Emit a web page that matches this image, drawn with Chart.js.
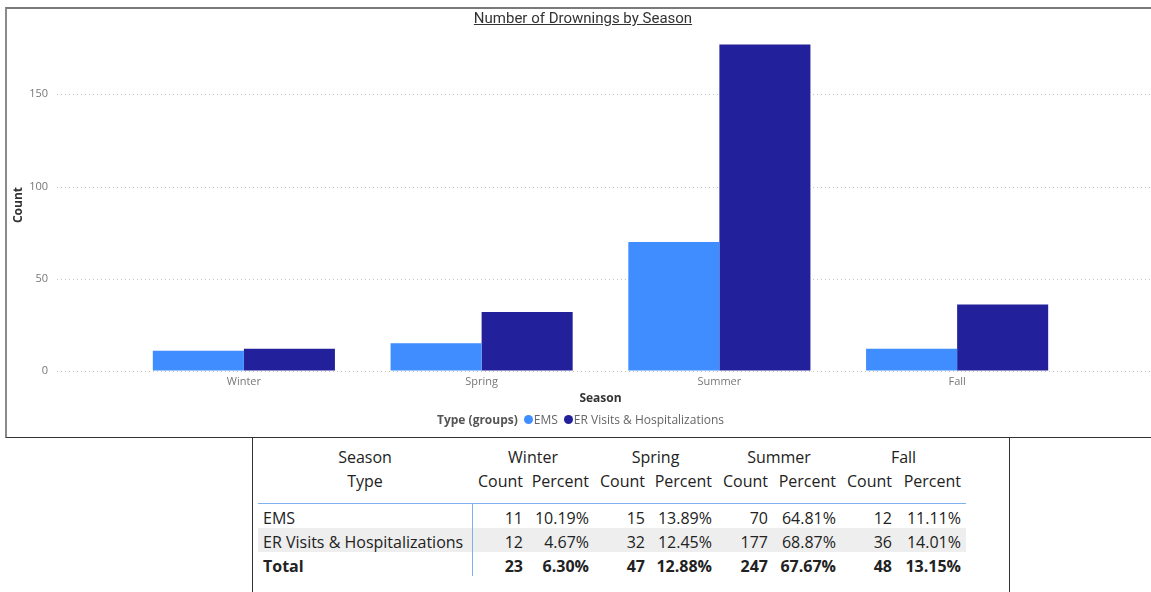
<!DOCTYPE html>
<html>
<head>
<meta charset="utf-8">
<script src="https://cdn.jsdelivr.net/npm/chart.js@4"></script>
<style>
  body { margin: 0; background: #fff; font-family: "Open Sans", "DejaVu Sans", sans-serif; }
  #frame { position: absolute; left: 5px; top: 7px; width: 1170px; height: 428px;
           border-top: 2px solid #7a7a7a; border-left: 2px solid #8a8a8a; border-bottom: 1px solid #333; }
  #chart { position: absolute; left: 0; top: 0; }
  #title { position: absolute; left: 0; width: 1166px; top: 9px; text-align: center;
           font-family: Roboto, sans-serif; font-size: 15px; color: #333; text-decoration: underline; }
  #legend { position: absolute; left: 437px; top: 411px; font-size: 12px; color: #666;
            display: flex; align-items: center; white-space: nowrap; }
  #legend b { color: #555; margin-right: 6px; }
  #legend .dot { width: 9px; height: 9px; border-radius: 50%; display: inline-block; margin-right: 1px; }
  #legend .item { display: flex; align-items: center; margin-right: 6px; }
  #tbox { position: absolute; left: 252px; top: 437px; width: 756px; height: 200px;
          border: 1px solid #333; }
  table { position: absolute; left: 5px; top: 7px; border-collapse: collapse; table-layout: fixed;
          font-size: 16px; color: #222; }
  td { padding: 4px 5px 0 0; height: 20px; line-height: 20px; white-space: nowrap; text-align: right; }
  td.type { text-align: left; padding-left: 5px; border-right: 1px solid #7fb0ef; }
  tr.h td { text-align: center; padding: 0; height: 24px; line-height: 24px; }
  tr.h2 td { height: 34px; vertical-align: top; padding-top: 0; border-bottom: 1px solid #7fb0ef; }
  tr.h2 td.num { text-align: right; padding-right: 5px; }
  tr.alt td { background: #eeeeee; }
  tr.tot td { font-weight: bold; }
</style>
</head>
<body>
<div id="frame"></div>
<canvas id="chart" width="1151" height="437"></canvas>
<div id="title">Number of Drownings by Season</div>
<div id="legend"></div>
<div id="tbox"><table id="tbl"></table></div>
<script>
const seasons = ["Winter", "Spring", "Summer", "Fall"];
const typeNames = ["EMS", "ER Visits & Hospitalizations"];
const emsCounts = [11, 15, 70, 12];
const erCounts = [12, 32, 177, 36];
const yTicks = [0, 50, 100, 150];
const colors = ["#3f8dff", "#22209a"];

// table values as shown
const emsPct = ["10.19%", "13.89%", "64.81%", "11.11%"];
const erPct = ["4.67%", "12.45%", "68.87%", "14.01%"];
const totalCounts = [23, 47, 247, 48];
const totalPct = ["6.30%", "12.88%", "67.67%", "13.15%"];

// dotted value gridlines running across the whole visual
const dottedGrid = {
  id: "dottedGrid",
  beforeDatasetsDraw(chart) {
    const ctx = chart.ctx;
    const y = chart.scales.y;
    ctx.save();
    ctx.strokeStyle = "#c4c4c4";
    ctx.lineWidth = 1;
    ctx.setLineDash([1, 3]);
    y.ticks.forEach(t => {
      const py = Math.round(y.getPixelForValue(t.value)) + 0.5;
      ctx.beginPath();
      ctx.moveTo(57, py);
      ctx.lineTo(chart.width, py);
      ctx.stroke();
    });
    ctx.restore();
  }
};

const ctx = document.getElementById("chart").getContext("2d");
const chart = new Chart(ctx, {
  type: "bar",
  data: {
    labels: seasons,
    datasets: [
      { label: typeNames[0], data: emsCounts, backgroundColor: colors[0] },
      { label: typeNames[1], data: erCounts, backgroundColor: colors[1] }
    ]
  },
  options: {
    responsive: false,
    animation: false,
    devicePixelRatio: 1,
    barPercentage: 1,
    categoryPercentage: 0.766,
    layout: { padding: { top: 39, right: 75, left: 0, bottom: 0 } },
    plugins: { legend: { display: false }, tooltip: { enabled: false } },
    scales: {
      x: {
        grid: { display: false, drawTicks: false },
        border: { display: false },
        ticks: { color: "#777", font: { size: 11, family: "'Open Sans', sans-serif" }, padding: 4 },
        title: { display: true, text: "Season", color: "#333",
                 font: { size: 12, weight: "bold", family: "'Open Sans', sans-serif" },
                 padding: { top: 0, bottom: 31 } },
        afterFit: s => { s.height = 66; }
      },
      y: {
        min: 0,
        max: 180,
        grid: { display: true, drawOnChartArea: false, drawTicks: true, tickLength: 74, tickColor: "transparent" },
        border: { display: false },
        afterBuildTicks: s => { s.ticks = yTicks.map(v => ({ value: v })); },
        ticks: { color: "#777", font: { size: 11, family: "'Open Sans', sans-serif" }, padding: 3 },
        title: { display: true, text: "Count", color: "#333",
                 font: { size: 12, weight: "bold", family: "'Open Sans', sans-serif" },
                 padding: { top: 11, bottom: 0 } },
        afterFit: s => { s.width = 125; }
      }
    }
  },
  plugins: [dottedGrid]
});

// legend
const legend = document.getElementById("legend");
legend.innerHTML = "<b>Type (groups)</b>" + chart.data.datasets.map(d =>
  `<span class="item"><span class="dot" style="background:${d.backgroundColor}"></span>${d.label}</span>`
).join("");

// matrix table
const countW = [56, 56, 56, 56];
const pctW = [66, 67, 68, 69];
let html = "<colgroup><col style='width:214px'>";
seasons.forEach((s, i) => { html += `<col style='width:${countW[i]}px'><col style='width:${pctW[i]}px'>`; });
html += "</colgroup>";
html += "<tr class='h'><td>Season</td>" + seasons.map(s => `<td colspan='2'>${s}</td>`).join("") + "</tr>";
html += "<tr class='h h2'><td>Type</td>" + seasons.map(() => "<td class='num'>Count</td><td class='num'>Percent</td>").join("") + "</tr>";
const rows = [
  [typeNames[0], emsCounts, emsPct, ""],
  [typeNames[1], erCounts, erPct, "alt"],
  ["Total", totalCounts, totalPct, "tot"]
];
rows.forEach(([name, counts, pcts, cls]) => {
  html += `<tr class='${cls}'><td class='type'>${name}</td>` +
    counts.map((c, i) => `<td>${c}</td><td>${pcts[i]}</td>`).join("") + "</tr>";
});
document.getElementById("tbl").innerHTML = html;
</script>
</body>
</html>
